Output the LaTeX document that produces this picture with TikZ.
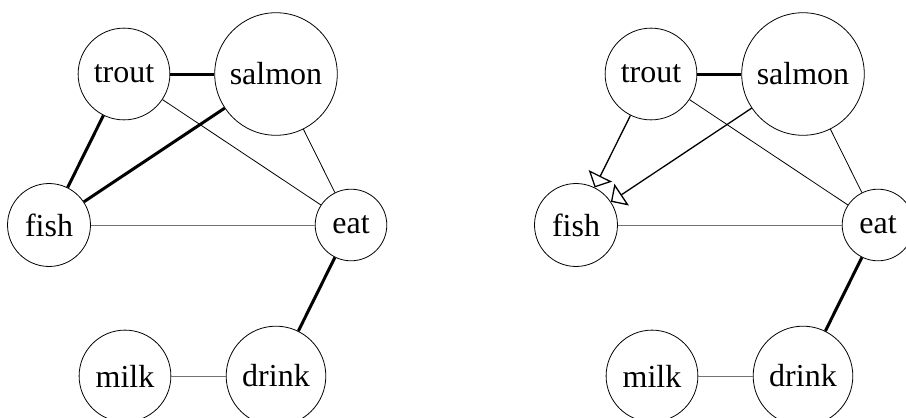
\documentclass[tikz,border=0pt]{standalone}
\usepackage{fontspec}
\setmainfont{Liberation Serif}
\usetikzlibrary{arrows.meta}

\begin{document}
\begin{tikzpicture}[x=1pt, y=-1pt,
  word/.style={draw, circle, line width=0.8pt, inner sep=11pt,
    font=\fontsize{32}{38}\selectfont},
  strong/.style={line width=3pt},
  plain/.style={line width=0.8pt},
  faint/.style={line width=1pt, black!55},
  cause/.style={line width=1.3pt, -{Triangle[open, length=13pt, width=26pt]}}
]
\clip (0,0) rectangle (906,418);

% left: undirected graph
\node[word] (trout)  at (124,74)  {trout};
\node[word] (salmon) at (276,74)  {salmon};
\node[word] (fish)   at (49,225)  {fish};
\node[word] (eat)    at (351,225) {eat};
\node[word] (milk)   at (125,376) {milk};
\node[word] (drink)  at (276,376) {drink};

\draw[strong] (trout) -- (salmon);
\draw[strong] (trout) -- (fish);
\draw[strong] (salmon) -- (fish);
\draw[plain] (trout) -- (eat);
\draw[plain] (salmon) -- (eat);
\draw[faint] (fish) -- (eat);
\draw[strong] (eat) -- (drink);
\draw[faint] (milk) -- (drink);

% right: same graph, fish pointed at
\begin{scope}[xshift=527pt]
\node[word] (trout2)  at (124,74)  {trout};
\node[word] (salmon2) at (276,74)  {salmon};
\node[word] (fish2)   at (49,225)  {fish};
\node[word] (eat2)    at (351,225) {eat};
\node[word] (milk2)   at (125,376) {milk};
\node[word] (drink2)  at (276,376) {drink};

\draw[strong] (trout2) -- (salmon2);
\draw[cause] (trout2) -- (fish2);
\draw[cause] (salmon2) -- (fish2);
\draw[plain] (trout2) -- (eat2);
\draw[plain] (salmon2) -- (eat2);
\draw[faint] (fish2) -- (eat2);
\draw[strong] (eat2) -- (drink2);
\draw[faint] (milk2) -- (drink2);
\end{scope}
\end{tikzpicture}
\end{document}
